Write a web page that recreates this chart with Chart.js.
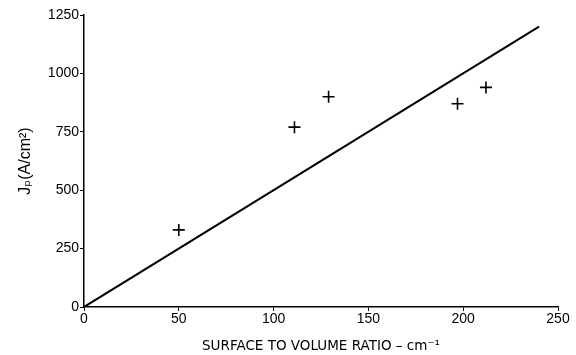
<!DOCTYPE html>
<html><head><meta charset="utf-8">
<script src="https://cdn.jsdelivr.net/npm/chart.js@4.4.0/dist/chart.umd.min.js"></script>
<style>html,body{margin:0;padding:0;background:#fff}#wrap{width:576px;height:355px}</style>
</head><body><div id="wrap"><canvas id="c"></canvas></div>
<script>
const ratio = [50, 111, 129, 197, 212];
const jp = [330, 770, 900, 870, 940];
const fitX = [0, 240];
const fitY = [0, 1200];
const xTicks = [0, 50, 100, 150, 200, 250];
const yTicks = [0, 250, 500, 750, 1000, 1250];

const font = {family: "'Liberation Sans', 'DejaVu Sans', sans-serif", size: 14};
new Chart(document.getElementById('c'), {
  type: 'scatter',
  data: {
    datasets: [
      {type: 'line', data: fitX.map((x, i) => ({x, y: fitY[i]})), borderColor: '#000', borderWidth: 2, pointRadius: 0, fill: false},
      {data: ratio.map((x, i) => ({x, y: jp[i]})), pointStyle: 'cross', pointRadius: 6, borderColor: '#000', borderWidth: 1.6, backgroundColor: '#000'}
    ]
  },
  options: {
    responsive: true, maintainAspectRatio: false, animation: false,
    layout: {padding: {left: 0, right: 18, top: 15, bottom: 0}},
    plugins: {legend: {display: false}, tooltip: {enabled: false}},
    scales: {
      x: {
        type: 'linear', min: 0, max: 250,
        afterBuildTicks: s => { s.ticks = xTicks.map(v => ({value: v})); },
        afterFit: s => { s.height = 48; },
        border: {color: '#000', width: 1.5},
        grid: {drawOnChartArea: false, color: '#000', tickLength: 4},
        ticks: {color: '#000', font, padding: 0, callback: v => String(v)},
        title: {display: true, text: 'SURFACE TO VOLUME RATIO – cm⁻¹', color: '#000', font: {family: "'DejaVu Sans', sans-serif", size: 13.5}, padding: {top: 8, bottom: 0}}
      },
      y: {
        type: 'linear', min: 0, max: 1250,
        afterBuildTicks: s => { s.ticks = yTicks.map(v => ({value: v})); },
        afterFit: s => { s.width = 84; },
        border: {color: '#000', width: 1.5},
        grid: {drawOnChartArea: false, color: '#000', tickLength: 4},
        ticks: {color: '#000', font, padding: 1, callback: v => String(v)},
        title: {display: true, text: 'Jₚ(A/cm²)', color: '#000', font: {family: font.family, size: 16}, padding: {top: 16, bottom: 0}}
      }
    }
  }
});
</script></body></html>
